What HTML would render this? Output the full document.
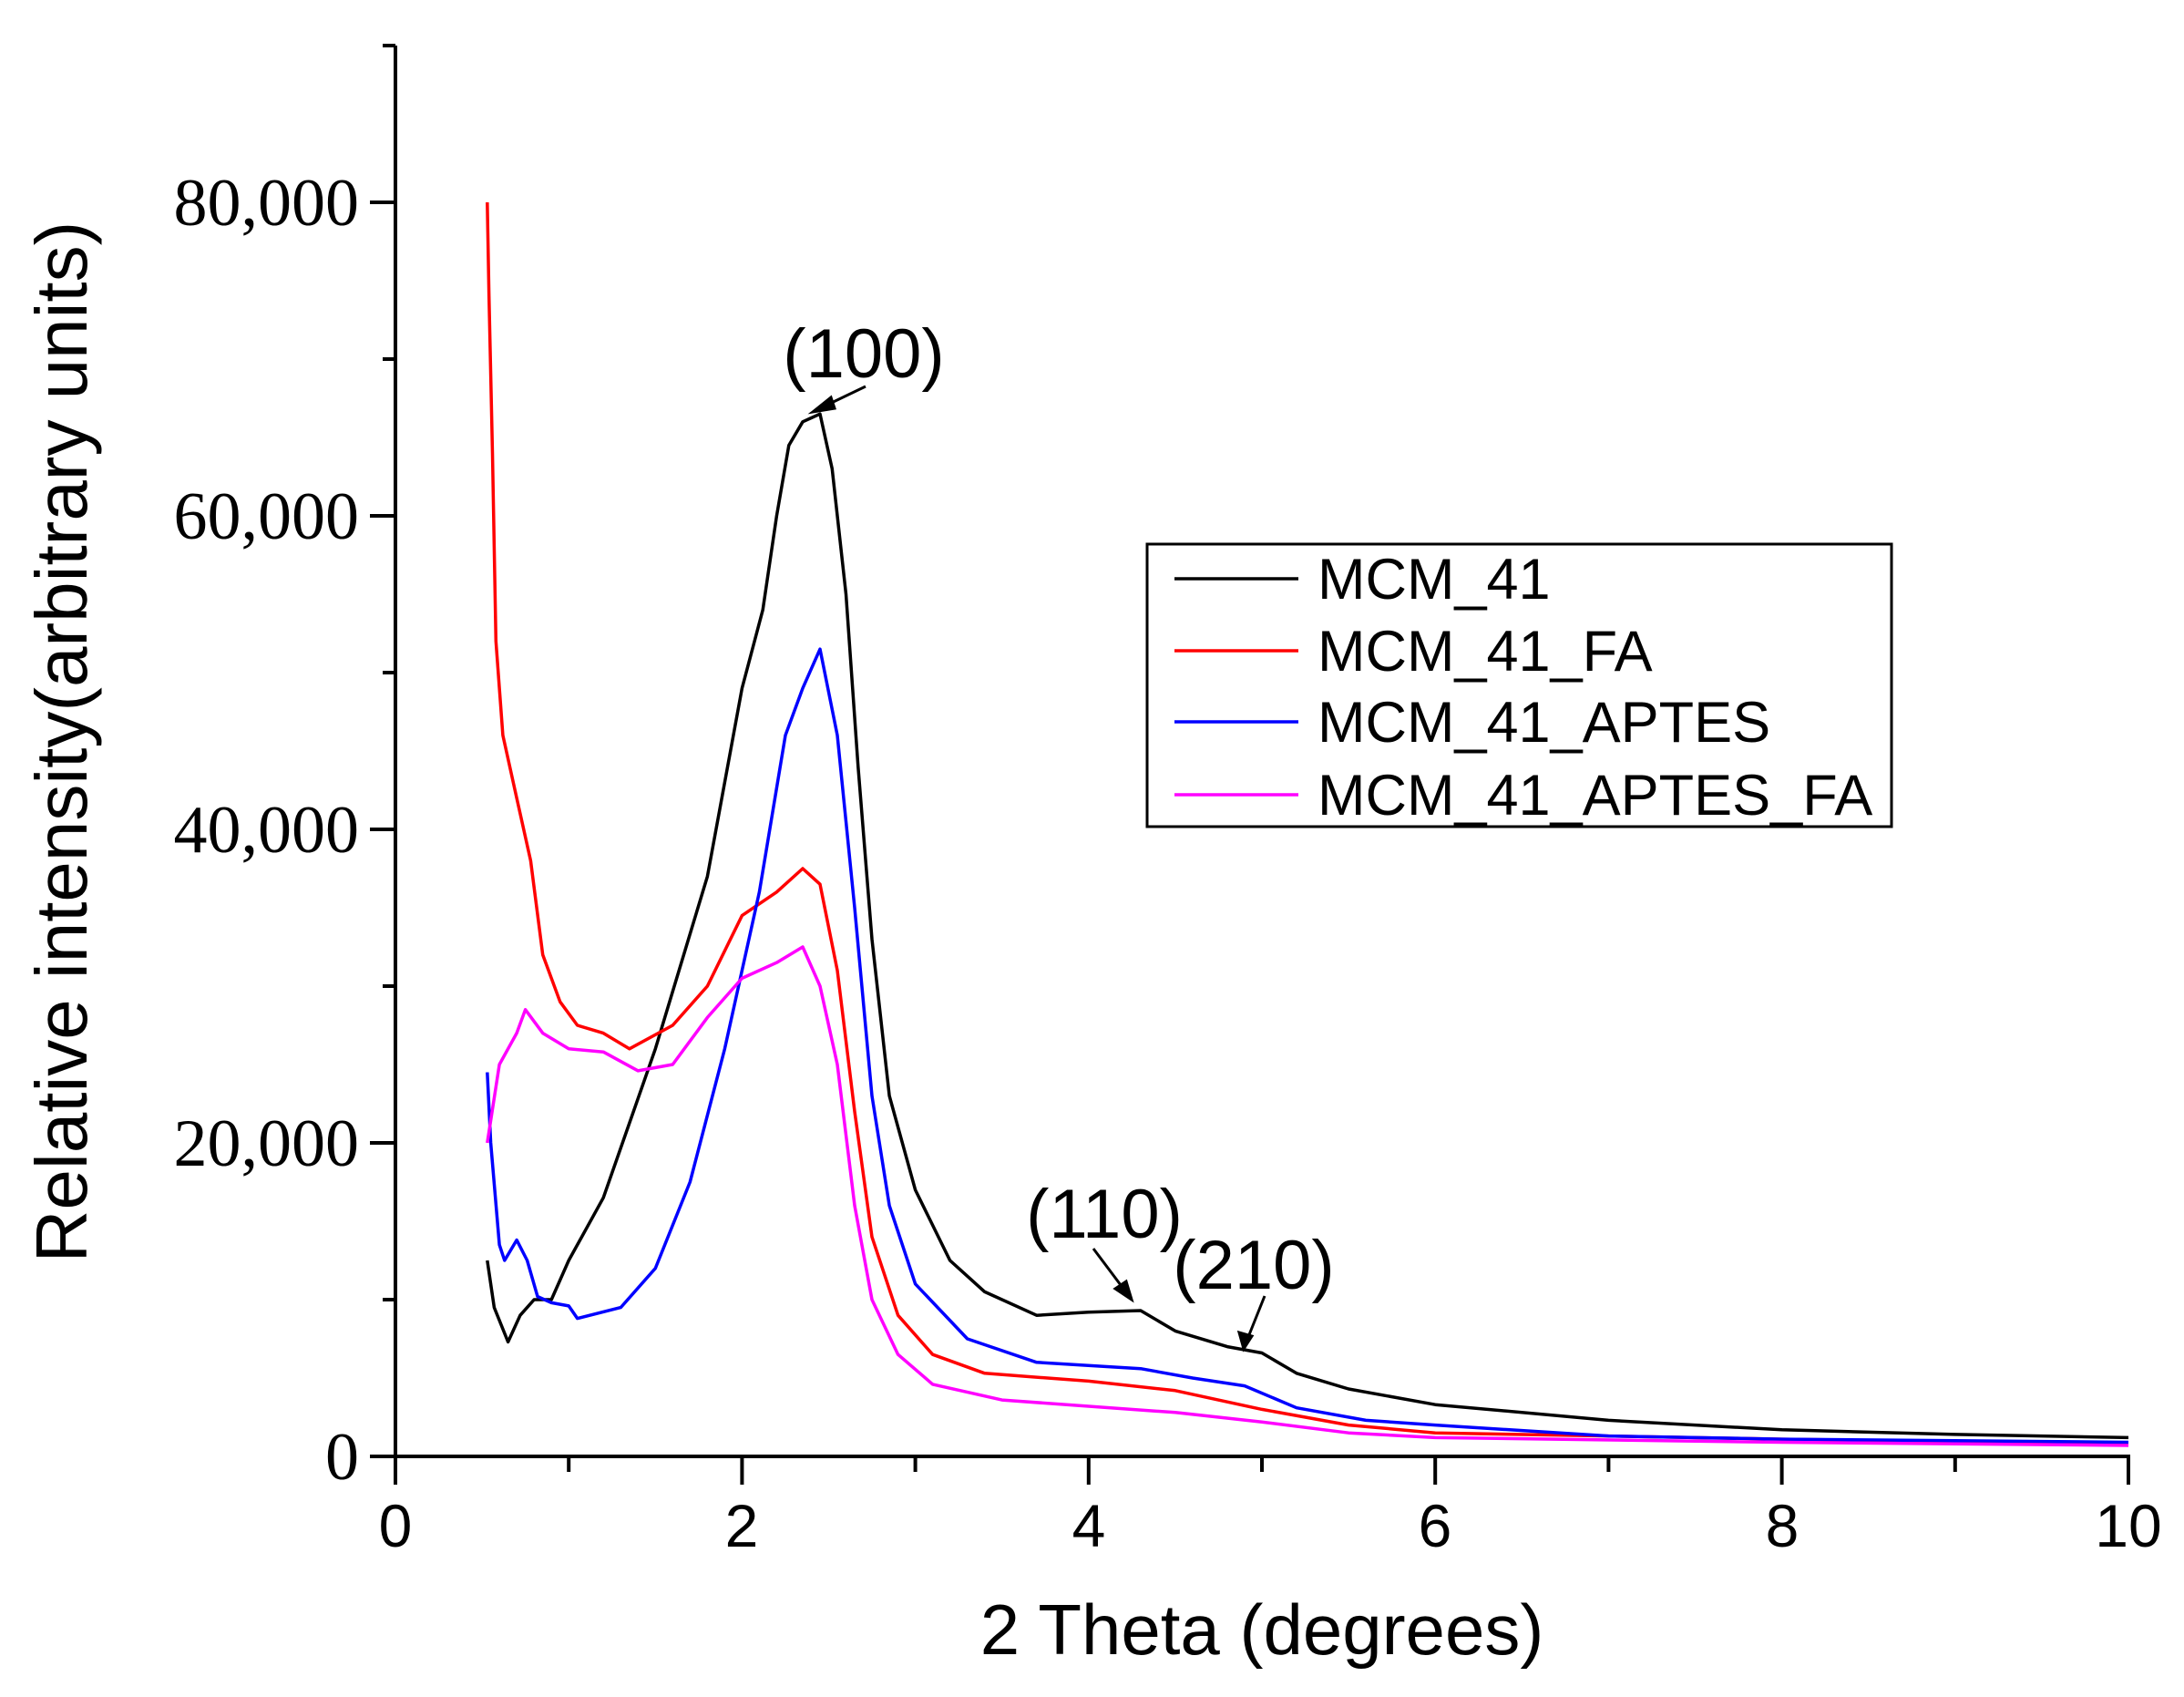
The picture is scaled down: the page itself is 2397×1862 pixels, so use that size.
<!DOCTYPE html>
<html><head><meta charset="utf-8"><style>
html,body{margin:0;padding:0;background:#fff;}
svg{display:block}
</style></head><body>
<svg id="s" width="2397" height="1862" viewBox="0 0 2397 1862" xmlns="http://www.w3.org/2000/svg">
<g id="axes" stroke="#000" stroke-width="4" fill="none"></g>
<g id="series" fill="none" stroke-width="3.5" stroke-linejoin="round"></g>
<g font-family="'Liberation Serif',serif" font-size="74" text-anchor="end" fill="#000">
<text x="394" y="247">80,000</text>
<text x="394" y="591">60,000</text>
<text x="394" y="935">40,000</text>
<text x="394" y="1279">20,000</text>
<text x="394" y="1623">0</text>
</g>
<g font-family="'Liberation Sans',sans-serif" font-size="66" text-anchor="middle" fill="#000">
<text x="434" y="1697">0</text>
<text x="814" y="1697">2</text>
<text x="1195" y="1697">4</text>
<text x="1575" y="1697">6</text>
<text x="1956" y="1697">8</text>
<text x="2336" y="1697">10</text>
</g>
<text x="1385" y="1815" font-family="'Liberation Sans',sans-serif" font-size="78" text-anchor="middle">2 Theta (degrees)</text>
<text transform="translate(95,814) rotate(-90)" font-family="'Liberation Sans',sans-serif" font-size="80" text-anchor="middle">Relative intensity(arbitrary units)</text>
<g font-family="'Liberation Sans',sans-serif" font-size="76" text-anchor="middle">
<text x="948" y="414">(100)</text>
<text x="1212" y="1358">(110)</text>
<text x="1376" y="1414">(210)</text>
</g>
<g stroke="#000" stroke-width="3" fill="#000">
<line x1="950" y1="424" x2="900" y2="448"/><polygon points="892,452 912,436 916,448"/>
<line x1="1200" y1="1370" x2="1236" y2="1418"/><polygon points="1242,1426 1224,1414 1236,1406"/>
<line x1="1388" y1="1422" x2="1368" y2="1472"/><polygon points="1365,1480 1360,1462 1374,1466"/>
</g>
<rect x="1259" y="597" width="817" height="310" fill="#fff" stroke="#000" stroke-width="3"/>
<g stroke-width="3.5">
<line x1="1289" y1="635" x2="1425" y2="635" stroke="#000"/>
<line x1="1289" y1="714" x2="1425" y2="714" stroke="#f00"/>
<line x1="1289" y1="792" x2="1425" y2="792" stroke="#00f"/>
<line x1="1289" y1="872" x2="1425" y2="872" stroke="#f0f"/>
</g>
<g font-family="'Liberation Sans',sans-serif" font-size="63" fill="#000">
<text x="1446" y="657">MCM_41</text>
<text x="1446" y="736">MCM_41_FA</text>
<text x="1446" y="814">MCM_41_APTES</text>
<text x="1446" y="894">MCM_41_APTES_FA</text>
</g>
</svg>
<script>
var NS="http://www.w3.org/2000/svg";
function X(x){return 434+190.2*x;}function Y(y){return 1598-0.0172*y;}
var ax=document.getElementById("axes");
function L(a,b,c,d){var l=document.createElementNS(NS,"line");l.setAttribute("x1",a);l.setAttribute("y1",b);l.setAttribute("x2",c);l.setAttribute("y2",d);ax.appendChild(l);}
L(434,50,434,1598);L(406,1598,2338,1598);
for(var i=0;i<=10;i++){L(X(i),1598,X(i),i%2==0?1629:1615);}
for(var j=0;j<=9;j++){L(j%2==0?406:420,Y(j*10000),434,Y(j*10000));}
var data={
"#000":[[0.53,12500],[0.57,9500],[0.65,7300],[0.72,9000],[0.8,10000],[0.9,10000],[1.0,12500],[1.2,16500],[1.5,26000],[1.8,37000],[2.0,49000],[2.12,54000],[2.2,60000],[2.27,64500],[2.35,66000],[2.45,66500],[2.52,63000],[2.6,55000],[2.67,44000],[2.75,33000],[2.85,23000],[3.0,17000],[3.2,12500],[3.4,10500],[3.7,9000],[4.0,9200],[4.3,9300],[4.5,8000],[4.8,7000],[5.0,6600],[5.2,5300],[5.5,4300],[6,3300],[7,2300],[8,1700],[9,1400],[10,1200]],
"#f00":[[0.53,80000],[0.54,74000],[0.56,64000],[0.58,52000],[0.62,46000],[0.7,42000],[0.78,38000],[0.85,32000],[0.95,29000],[1.05,27500],[1.2,27000],[1.35,26000],[1.6,27500],[1.8,30000],[2.0,34500],[2.2,36000],[2.35,37500],[2.45,36500],[2.55,31000],[2.65,22000],[2.75,14000],[2.9,9000],[3.1,6500],[3.4,5300],[4,4800],[4.5,4200],[5,3000],[5.5,2000],[6,1500],[8,1100],[10,800]],
"#00f":[[0.53,24500],[0.55,20000],[0.6,13500],[0.63,12500],[0.7,13800],[0.76,12500],[0.82,10200],[0.9,9800],[1.0,9600],[1.05,8800],[1.3,9500],[1.5,12000],[1.7,17500],[1.9,26000],[2.1,36000],[2.25,46000],[2.35,49000],[2.45,51500],[2.55,46000],[2.65,35000],[2.75,23000],[2.85,16000],[3.0,11000],[3.3,7500],[3.7,6000],[4.3,5600],[4.6,5000],[4.9,4500],[5.2,3100],[5.6,2300],[6,2000],[7,1300],[8,1100],[10,900]],
"#f0f":[[0.53,20000],[0.6,25000],[0.7,27000],[0.75,28500],[0.85,27000],[1.0,26000],[1.2,25800],[1.4,24600],[1.6,25000],[1.8,28000],[2.0,30500],[2.2,31500],[2.35,32500],[2.45,30000],[2.55,25000],[2.65,16000],[2.75,10000],[2.9,6500],[3.1,4600],[3.5,3600],[4,3200],[4.5,2800],[5,2200],[5.5,1500],[6,1200],[8,900],[10,700]]};
var sg=document.getElementById("series");
for(var c in data){var p=document.createElementNS(NS,"polyline");p.setAttribute("stroke",c);p.setAttribute("points",data[c].map(function(d){return X(d[0]).toFixed(1)+","+Y(d[1]).toFixed(1);}).join(" "));sg.appendChild(p);}
</script>
</body></html>
